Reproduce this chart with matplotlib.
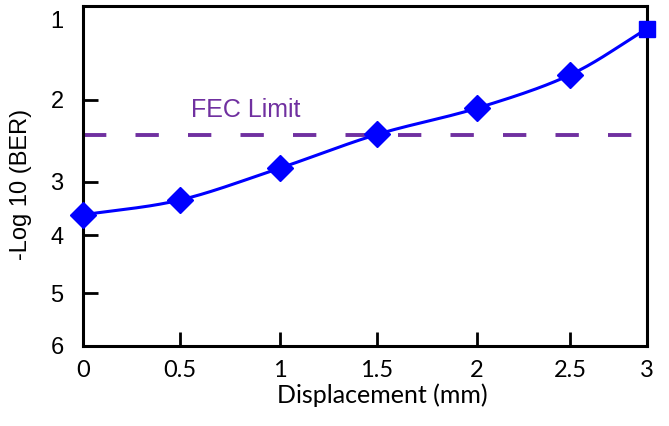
import numpy as np
import matplotlib
matplotlib.use('Agg')
import matplotlib.pyplot as plt

# data
displacement = [0, 0.5, 1, 1.5, 2, 2.5, 3]
neg_log_ber = [3.62, 3.34, 2.83, 2.42, 2.10, 1.69, 1.12]
fec_limit = 2.43
x_ticks = [0, 0.5, 1, 1.5, 2, 2.5, 3]
x_tick_labels = ['0', '0.5', '1', '1.5', '2', '2.5', '3']
y_ticks = [1, 2, 3, 4, 5, 6]

# the original axes are unevenly spaced, so use piecewise scales
x_knots = [0, 0.5, 1, 1.5, 2, 2.5, 3]
x_pos = [83, 180, 280, 377, 477, 570, 647]
y_knots = [0.84, 1, 2, 3, 4, 5, 6]
y_pos = [6, 19, 100, 182, 235, 293, 346]


def fx(v):
    return np.interp(v, x_knots, x_pos)


def fx_inv(p):
    return np.interp(p, x_pos, x_knots)


def fy(v):
    return np.interp(v, y_knots, y_pos)


def fy_inv(p):
    return np.interp(p, y_pos, y_knots)


def smooth(px, py, n=30):
    # catmull-rom through the points (in screen-like coordinates)
    pts = np.column_stack([px, py])
    pts = np.vstack([2 * pts[0] - pts[1], pts, 2 * pts[-1] - pts[-2]])
    out = []
    t = np.linspace(0, 1, n)[:, None]
    for i in range(1, len(pts) - 2):
        p0, p1, p2, p3 = pts[i - 1], pts[i], pts[i + 1], pts[i + 2]
        seg = 0.5 * ((2 * p1) + (-p0 + p2) * t + (2 * p0 - 5 * p1 + 4 * p2 - p3) * t ** 2
                     + (-p0 + 3 * p1 - 3 * p2 + p3) * t ** 3)
        out.append(seg)
    out = np.vstack(out)
    return out[:, 0], out[:, 1]


fig = plt.figure(figsize=(6.69, 4.26), dpi=100)
ax = fig.add_axes([83 / 669, 1 - 346 / 426, 564 / 669, 340 / 426])
ax.set_xscale('function', functions=(fx, fx_inv))
ax.set_yscale('function', functions=(fy, fy_inv))
ax.set_xlim(0, 3)
ax.set_ylim(6, 0.84)

blue = '#0000ff'
purple = '#7030a0'

# FEC limit
ax.axhline(fec_limit, color=purple, lw=2.8, dashes=(6, 7.5))
ax.text(0.83, fec_limit - 0.31, 'FEC Limit', color=purple, fontsize=18,
        family='Liberation Sans', ha='center', va='center')

# smooth curve
sx, sy = smooth(fx(displacement), fy(neg_log_ber))
ax.plot(fx_inv(sx), fy_inv(sy), color=blue, lw=2.2, clip_on=False, zorder=3)
ax.plot(displacement[:-1], neg_log_ber[:-1], ls='none', marker='D', ms=13,
        color=blue, clip_on=False, zorder=4)
ax.plot(displacement[-1:], neg_log_ber[-1:], ls='none', marker='s', ms=12,
        color=blue, clip_on=False, zorder=4)

for s in ax.spines.values():
    s.set_linewidth(2.2)

ax.set_xticks(x_ticks)
ax.set_xticklabels(x_tick_labels, family='Lato', fontsize=17)
ax.set_yticks(y_ticks)
ax.set_yticklabels([str(v) for v in y_ticks], family='Liberation Sans', fontsize=17)
ax.minorticks_off()
ax.tick_params(axis='x', direction='in', length=10, width=2, pad=10)
ax.tick_params(axis='y', direction='in', length=11, width=2, pad=14)
ax.yaxis.get_major_ticks()[0].tick1line.set_visible(False)

ax.set_xlabel('Displacement (mm)', family='Lato', fontsize=18)
ax.xaxis.set_label_coords(0.53, -0.11)
ax.set_ylabel('-Log 10 (BER)', family='Liberation Sans', fontsize=17)
ax.yaxis.set_label_coords(-0.09, 0.474)

fig.savefig('out.png', dpi=100)
